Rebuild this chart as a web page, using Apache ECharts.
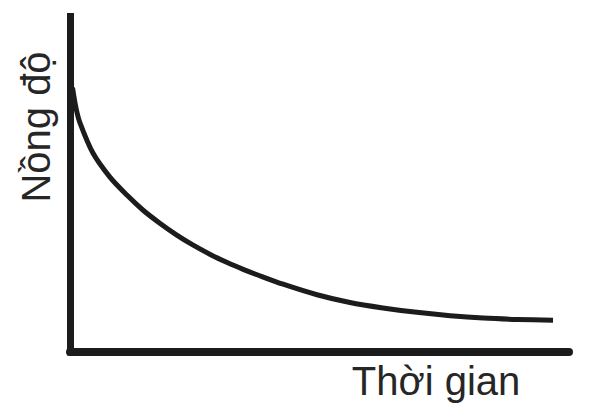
<!DOCTYPE html>
<html>
<head>
<meta charset="utf-8">
<script src="https://cdn.jsdelivr.net/npm/echarts@6/dist/echarts.min.js"></script>
<style>
html,body{margin:0;padding:0;background:#fff;}
#c{width:616px;height:417px;}
</style>
</head>
<body>
<div id="c"></div>
<script>
// Time (arbitrary units) and concentration (arbitrary units)
var timeValues = [0.5, 1.2, 2.0, 4.6, 8.0, 11.4, 14.6, 18.0, 21.4, 24.6, 28.1, 31.5, 34.7, 37.5, 42.7, 49.5, 56.1, 62.7, 69.5, 76.2, 82.8, 89.6, 96.8];
var concValues = [78, 72, 67.6, 58.7, 51.6, 46.3, 41.9, 38.0, 34.5, 31.6, 28.8, 26.4, 24.4, 22.8, 20.0, 16.9, 14.6, 13.0, 11.7, 10.7, 10.0, 9.6, 9.4];
var xAxisTitle = 'Thời gian';
var yAxisTitle = 'Nồng độ';

var points = timeValues.map(function (t, i) { return [t, concValues[i]]; });

var chart = echarts.init(document.getElementById('c'), null, { renderer: 'svg' });
var axisColor = '#1c1c1c';
var textColor = '#262626';
chart.setOption({
  animation: false,
  backgroundColor: '#ffffff',
  grid: { left: 70, right: 47, top: 16.5, bottom: 65 },
  xAxis: {
    type: 'value', min: 0, max: 100,
    axisLine: { show: true, onZero: false, lineStyle: { color: axisColor, width: 8 } },
    axisTick: { show: false }, axisLabel: { show: false }, splitLine: { show: false }
  },
  yAxis: {
    type: 'value', min: 0, max: 99,
    axisLine: { show: true, onZero: false, lineStyle: { color: axisColor, width: 7, cap: 'square' } },
    axisTick: { show: false }, axisLabel: { show: false }, splitLine: { show: false }
  },
  series: [{
    type: 'line',
    data: points,
    smooth: 0.3,
    showSymbol: false,
    lineStyle: { color: axisColor, width: 5, join: 'round' }
  }],
  graphic: [
    {
      type: 'text', x: 436, y: 381,
      style: { text: xAxisTitle, fill: textColor, font: '40px "Liberation Sans", Arial, sans-serif', align: 'center', verticalAlign: 'middle' }
    },
    {
      type: 'text', x: 36, y: 127, rotation: Math.PI / 2,
      style: { text: yAxisTitle, fill: textColor, font: '40px "Liberation Sans", Arial, sans-serif', align: 'center', verticalAlign: 'middle' }
    }
  ]
});
</script>
</body>
</html>
